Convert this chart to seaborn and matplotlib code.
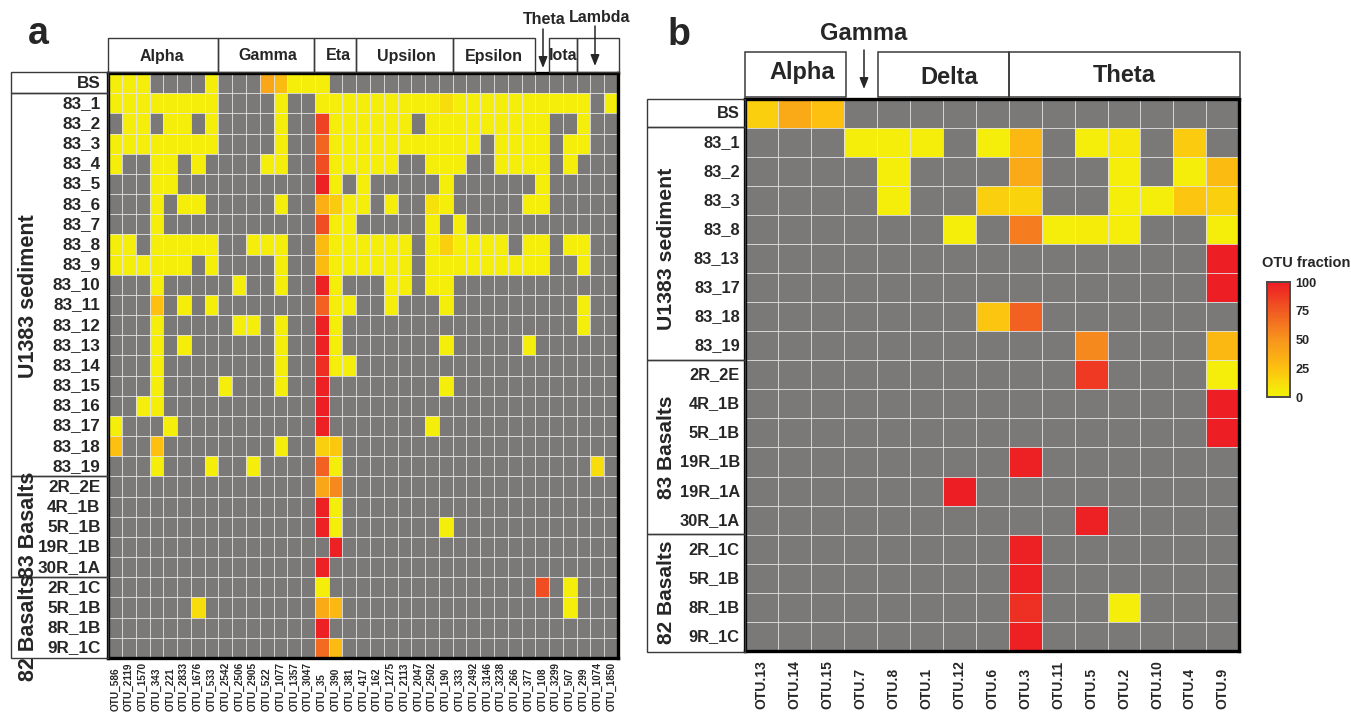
import numpy as np
import pandas as pd
import matplotlib
matplotlib.use("Agg")
import matplotlib.pyplot as plt
from matplotlib.colors import LinearSegmentedColormap
from matplotlib.patches import Rectangle
import seaborn as sns

n = np.nan
E8, E7, E5 = [n]*8, [n]*7, [n]*5

# ---------- panel a ----------
a_cols = ["586","2119","1570","343","221","2833","1676","533","2542","2506","2905","522","1077",
          "1357","3047","35","390","381","417","162","1275","2113","2047","2502","190","333",
          "2492","3146","3238","266","377","108","3299","507","299","1074","1850"]
a_rows = ["BS","83_1","83_2","83_3","83_4","83_5","83_6","83_7","83_8","83_9","83_10","83_11",
          "83_12","83_13","83_14","83_15","83_16","83_17","83_18","83_19","2R_2E","4R_1B","5R_1B",
          "19R_1B","30R_1A","2R_1C","5R_1B","8R_1B","9R_1C"]
a_values = [
    [3,3,3,n,n,n,n,3] + [n,n,n,40,28,3,3] + [3,n] + E8 + E7 + E5,
    [3,3,3,3,3,3,3,3] + [n,n,n,n,3,n,n] + [3,3] + [3,3,3,3,3,3,3,12] + [3,3,3,3,3,3,3] + [3,3,3,n,3],
    [n,3,3,n,3,3,n,3] + [n,n,n,n,3,n,n] + [85,3] + [3,3,3,3,3,n,3,3] + [3,3,3,3,3,3,3] + [n,n,3,n,n],
    [3,3,3,3,3,3,3,3] + [n,n,n,n,3,n,n] + [70,3] + [3,3,3,3,3,3,3,3] + [3,3,n,3,3,3,3] + [n,3,3,n,n],
    [3,n,n,3,3,n,3,n] + [n,n,n,3,3,n,n] + [80,3] + [3,3,3,3,n,n,3,3] + [3,n,n,3,3,3,3] + [n,3,n,n,n],
    [n,n,n,3,3,n,n,n] + E7 + [98,3] + [n,3,n,n,n,n,n,3] + [n,n,n,n,n,n,3] + E5,
    [n,n,n,3,n,3,3,n] + [n,n,n,n,3,n,n] + [35,20] + [3,3,n,3,n,n,10,3] + [n,n,n,n,n,3,3] + E5,
    [n,n,n,3,n,n,n,n] + E7 + [80,3] + [3,n,n,n,n,n,3,n] + [3,n,n,n,n,n,n] + E5,
    [3,3,n,3,3,3,3,3] + [n,n,3,3,3,n,n] + [28,3] + [3,3,3,3,3,n,3,18] + [3,3,3,3,n,3,3] + [n,3,3,n,n],
    [3,3,3,3,3,3,n,3] + [n,n,n,n,3,n,n] + [28,3] + [3,3,3,3,3,n,3,3] + [3,3,3,3,3,3,3] + [n,n,3,n,n],
    [n,n,n,3,n,n,n,n] + [n,3,n,n,3,n,n] + [98,3] + [n,n,n,3,3,n,3,3] + E7 + E5,
    [n,n,n,25,n,3,n,3] + E7 + [72,3] + [3,n,n,3,n,n,n,3] + E7 + [n,n,3,n,n],
    [n,n,n,3,n,n,n,n] + [n,3,3,n,3,n,n] + [98,3] + E8 + E7 + [n,n,3,n,n],
    [n,n,n,3,n,3,n,n] + [n,n,n,n,3,n,n] + [98,3] + [n,n,n,n,n,n,n,3] + [n,n,n,n,n,3,n] + E5,
    [n,n,n,3,n,n,n,n] + [n,n,n,n,3,n,n] + [93,3] + [3,n,n,n,n,n,n,n] + E7 + E5,
    [n,n,n,3,n,n,n,n] + [3,n,n,n,3,n,n] + [98,n] + [n,n,n,n,n,n,n,3] + E7 + E5,
    [n,n,3,3,n,n,n,n] + E7 + [99,n] + E8 + E7 + E5,
    [3,n,n,n,3,n,n,n] + E7 + [98,n] + [n,n,n,n,n,n,3,n] + E7 + E5,
    [25,n,n,25,n,n,n,n] + [n,n,n,n,3,n,n] + [18,22] + E8 + E7 + E5,
    [n,n,n,3,n,n,n,3] + [n,n,3,n,n,n,n] + [72,3] + E8 + E7 + [n,n,n,12,n],
    E8 + E7 + [40,55] + E8 + E7 + E5,
    E8 + E7 + [98,3] + E8 + E7 + E5,
    E8 + E7 + [98,3] + [n,n,n,n,n,n,n,3] + E7 + E5,
    E8 + E7 + [n,98] + E8 + E7 + E5,
    E8 + E7 + [98,n] + E8 + E7 + E5,
    E8 + E7 + [3,n] + E8 + [n,n,n,n,n,n,80] + [n,3,n,n,n],
    [n,n,n,n,n,n,12,n] + E7 + [38,30] + E8 + E7 + [n,3,n,n,n],
    E8 + E7 + [98,n] + E8 + E7 + E5,
    E8 + E7 + [68,28] + E8 + E7 + E5,
]

# ---------- panel b ----------
b_cols = ["13","14","15","7","8","1","12","6","3","11","5","2","10","4","9"]
b_rows = ["BS","83_1","83_2","83_3","83_8","83_13","83_17","83_18","83_19","2R_2E","4R_1B","5R_1B",
          "19R_1B","19R_1A","30R_1A","2R_1C","5R_1B","8R_1B","9R_1C"]
b_values = [
    [18,38,25,n,n,n,n,n,n,n,n,n,n,n,n],
    [n,n,n,3,3,3,n,3,30,n,3,7,n,20,n],
    [n,n,n,n,3,n,n,n,38,n,n,3,n,3,28],
    [n,n,n,n,3,n,n,18,16,n,n,3,3,23,18],
    [n,n,n,n,n,n,3,n,60,3,4,3,n,n,3],
    [n,n,n,n,n,n,n,n,n,n,n,n,n,n,99],
    [n,n,n,n,n,n,n,n,n,n,n,n,n,n,99],
    [n,n,n,n,n,n,n,23,72,n,n,n,n,n,n],
    [n,n,n,n,n,n,n,n,n,n,55,n,n,n,30],
    [n,n,n,n,n,n,n,n,n,n,88,n,n,n,3],
    [n,n,n,n,n,n,n,n,n,n,n,n,n,n,99],
    [n,n,n,n,n,n,n,n,n,n,n,n,n,n,99],
    [n,n,n,n,n,n,n,n,98,n,n,n,n,n,n],
    [n,n,n,n,n,n,99,n,n,n,n,n,n,n,n],
    [n,n,n,n,n,n,n,n,n,n,98,n,n,n,n],
    [n,n,n,n,n,n,n,n,98,n,n,n,n,n,n],
    [n,n,n,n,n,n,n,n,98,n,n,n,n,n,n],
    [n,n,n,n,n,n,n,n,92,n,n,3,n,n,n],
    [n,n,n,n,n,n,n,n,98,n,n,n,n,n,n],
]

W, H = 1351, 713
GRAY, INK, EDGE = "#7a7978", "#262626", "#3a3a3a"

sns.set_theme(style="white")
plt.rcParams["font.family"] = ["Liberation Sans", "DejaVu Sans"]
plt.rcParams["font.weight"] = "bold"

cmap = LinearSegmentedColormap.from_list(
    "otu", [(0, "#f5ee0a"), (0.05, "#f5ec0a"), (0.25, "#fdc010"),
            (0.5, "#f7941d"), (0.75, "#f15a22"), (1, "#ed1c24")])
cmap.set_bad(GRAY)

fig = plt.figure(figsize=(W/100, H/100), dpi=100, facecolor="white")


def px_axes(x0, y0, x1, y1, **kw):
    return fig.add_axes([x0/W, 1-y1/H, (x1-x0)/W, (y1-y0)/H], **kw)


def heat(ax, values, rows, cols, prefix, xsize, ysize, xpad, ypad, **kw):
    df = pd.DataFrame(np.array(values, dtype=float),
                      index=range(len(rows)), columns=range(len(cols)))
    sns.heatmap(df, ax=ax, cmap=cmap, vmin=0, vmax=100, linewidths=0,
                square=False,
                xticklabels=[prefix + c for c in cols], yticklabels=rows, **kw)
    ax.hlines(range(1, len(rows)), 0, len(cols), color="#e4e4e4", lw=0.6, zorder=3)
    ax.vlines(range(1, len(cols)), 0, len(rows), color="#e4e4e4", lw=0.6, zorder=3)
    ax.tick_params(axis="both", length=0)
    ax.tick_params(axis="x", pad=xpad, labelsize=xsize, labelcolor=INK)
    ax.tick_params(axis="y", pad=ypad, labelsize=ysize, labelcolor=INK)
    for lab in ax.get_xticklabels():
        lab.set_rotation(90)
        lab.set_va("bottom")
        lab.set_ha("center")
    for lab in ax.get_yticklabels():
        lab.set_rotation(0)
    for s in ax.spines.values():
        s.set_visible(True)
        s.set_color("black")
        s.set_linewidth(2.4)
        s.set_zorder(4)
    ax.set_xlabel("")
    ax.set_ylabel("")


ax_a = px_axes(108.2, 73, 618, 658)
heat(ax_a, a_values, a_rows, a_cols, "OTU_", 7.2, 12.3, 38.0, 5.6, cbar=False)

ax_b = px_axes(745.4, 98.6, 1239.2, 651)
cax = px_axes(1267, 282, 1290, 397)
heat(ax_b, b_values, b_rows, b_cols, "OTU.", 10, 11.8, 42.0, 4.0,
     cbar_ax=cax, cbar_kws={"ticks": [0, 25, 50, 75, 100]})
cax.tick_params(length=0, pad=4, labelsize=9.2, labelcolor=INK)
for s in cax.spines.values():
    s.set_visible(True)
    s.set_color("#4a4a4a")
    s.set_linewidth(1.2)

# ---------- overlay in pixel coordinates ----------
ov = fig.add_axes([0, 0, 1, 1], zorder=5, facecolor="none")
ov.set_xlim(0, W)
ov.set_ylim(H, 0)
ov.axis("off")


def box(x0, y0, x1, y1, lw=1.0):
    ov.add_patch(Rectangle((x0, y0), x1-x0, y1-y0, fill=False, ec=EDGE, lw=lw))


def txt(x, y, s, size, **kw):
    ov.text(x, y, s, fontsize=size, ha="center", va="center", color=INK, **kw)


def arrow(x, y0, y1):
    ov.annotate("", xy=(x, y1), xytext=(x, y0),
                arrowprops=dict(arrowstyle="-|>,head_length=0.55,head_width=0.22",
                                color=INK, lw=1.1, shrinkA=0, shrinkB=0))


txt(38, 34, "a", 27)
txt(679, 35, "b", 27)

# panel a headers
for x0, x1 in [(108, 218), (218, 314), (314, 356), (356, 453), (453, 535), (549, 577), (577, 619)]:
    box(x0, 38, x1, 72)
for x, s in [(162, "Alpha"), (268, "Gamma"), (338, "Eta"), (406, "Upsilon"), (494, "Epsilon"), (563, "Iota")]:
    txt(x, 56, s, 11.5)
txt(544, 19, "Theta", 11.5)
txt(600, 18, "Lambda", 11.5)
arrow(543, 29, 68)
arrow(595, 26, 66)

# panel a side groups
box(11, 72, 108, 93)
box(11, 93, 108, 476)
box(11, 476, 108, 577)
box(11, 577, 108, 658)
txt(29, 296, "U1383 sediment", 15.5, rotation=90)
txt(28, 525, "83 Basalts", 15.5, rotation=90)
txt(28, 628, "82 Basalts", 15.5, rotation=90)

# panel b headers
for x0, x1 in [(745, 846), (878, 1009), (1009, 1240)]:
    box(x0, 52, x1, 97, lw=1.1)
txt(802, 73, "Alpha", 17)
txt(949, 78, "Delta", 17)
txt(1124, 75, "Theta", 17)
txt(864, 34, "Gamma", 17)
arrow(864, 50, 89)

# panel b side groups
box(647, 99, 745, 127)
box(647, 127, 745, 360)
box(647, 360, 745, 534)
box(647, 534, 745, 652)
txt(666, 249, "U1383 sediment", 15.3, rotation=90)
txt(666, 447, "83 Basalts", 15, rotation=90)
txt(666, 592, "82 Basalts", 15, rotation=90)

ov.text(1262, 263, "OTU fraction", fontsize=10.5, ha="left", va="center", color=INK)

fig.savefig("out.png", dpi=100)
